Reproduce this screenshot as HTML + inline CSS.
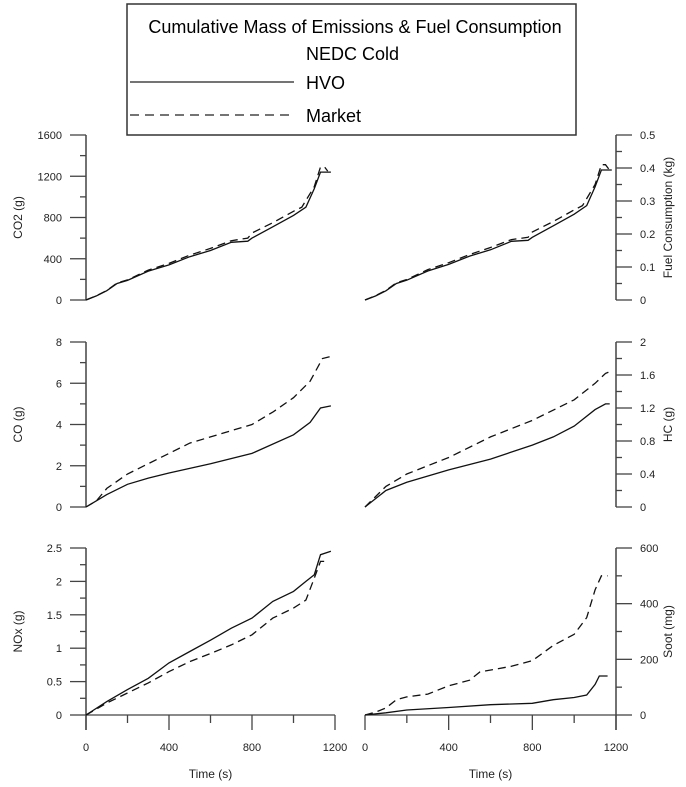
<!DOCTYPE html>
<html><head><meta charset="utf-8"><style>
body{margin:0;background:#fff;}
svg{display:block;font-family:"Liberation Sans",Arial,sans-serif;}
.leg{font-family:"Liberation Sans",sans-serif;}
</style></head><body>
<svg id="chart" width="686" height="787" viewBox="0 0 686 787">
<g>
<rect x="127" y="4" width="449" height="131" fill="#fff" stroke="#333" stroke-width="1.5"/>
<text class="leg" x="355" y="33" font-size="18" text-anchor="middle">Cumulative Mass of Emissions &amp; Fuel Consumption</text>
<text class="leg" x="306" y="60" font-size="18">NEDC Cold</text>
<line x1="130" y1="82" x2="294" y2="82" stroke="#222" stroke-width="1.2"/>
<text class="leg" x="306" y="89" font-size="18">HVO</text>
<line x1="130" y1="115" x2="294" y2="115" stroke="#222" stroke-width="1.2" stroke-dasharray="9,6"/>
<text class="leg" x="306" y="122" font-size="18">Market</text>
</g>
</svg>
<script>
const xTickVals=[0,400,800,1200];
const co2T=[0,50,100,150,200,300,400,500,600,700,780,800,900,1000,1060,1100,1130,1180];
const co2Hvo=[0,40,90,160,190,280,340,420,480,560,570,600,710,820,900,1080,1240,1240];
const co2MktT=[0,50,100,150,200,300,400,500,600,700,780,800,900,1000,1040,1100,1130,1150,1165];
const co2Mkt=[0,42,92,165,195,290,355,435,500,575,600,650,750,860,900,1100,1290,1290,1250];
const fcT=co2T.slice();
const fcHvo=[0,0.012,0.028,0.05,0.06,0.088,0.108,0.133,0.152,0.178,0.181,0.19,0.225,0.26,0.286,0.343,0.394,0.394];
const fcMktT=co2MktT.slice();
const fcMkt=[0,0.013,0.029,0.052,0.062,0.092,0.113,0.138,0.159,0.183,0.19,0.206,0.238,0.273,0.286,0.35,0.41,0.41,0.397];
const coT=[0,50,100,200,300,400,600,800,1000,1080,1130,1180];
const coHvo=[0,0.3,0.6,1.1,1.4,1.65,2.1,2.6,3.5,4.1,4.8,4.9];
const coMktT=[0,50,100,200,300,400,500,600,800,900,1000,1080,1140,1180];
const coMkt=[0,0.3,0.9,1.6,2.1,2.6,3.1,3.4,4.0,4.6,5.3,6.1,7.2,7.3];
const hcT=[0,100,200,400,600,800,900,1000,1100,1150,1170];
const hcHvo=[0,0.2,0.3,0.45,0.58,0.75,0.85,0.98,1.18,1.25,1.25];
const hcMktT=[0,100,200,400,600,800,1000,1100,1150,1170];
const hcMkt=[0,0.25,0.4,0.6,0.85,1.05,1.3,1.5,1.62,1.64];
const noxT=[0,100,200,300,400,500,600,700,800,900,1000,1060,1100,1130,1180];
const noxHvo=[0,0.2,0.38,0.55,0.78,0.95,1.12,1.3,1.45,1.7,1.85,2.0,2.1,2.4,2.45];
const noxMktT=[0,100,200,300,400,500,600,700,800,900,1000,1060,1100,1130,1150];
const noxMkt=[0,0.18,0.33,0.48,0.65,0.8,0.92,1.05,1.2,1.45,1.6,1.72,2.05,2.3,2.3];
const sootT=[0,100,200,400,600,800,900,1000,1060,1100,1120,1160];
const sootHvo=[0,8,18,27,37,42,55,63,72,110,140,140];
const sootMktT=[0,50,100,150,200,300,400,500,550,700,800,900,1000,1060,1100,1130,1160];
const sootMkt=[0,10,25,55,65,75,105,125,155,175,195,250,290,350,450,500,500];

const panels=[
 {n:'co2',side:'L',x0:86,x1:335,yT:135,yB:300,max:1600,maj:400,min:200,lab:'CO2 (g)',fmt:v=>v,t1:co2T,s1:co2Hvo,t2:co2MktT,s2:co2Mkt,xa:false},
 {n:'fuel',side:'R',x0:365,x1:616,yT:135,yB:300,max:0.5,maj:0.1,min:0.05,lab:'Fuel Consumption (kg)',fmt:v=>+v.toFixed(1),t1:fcT,s1:fcHvo,t2:fcMktT,s2:fcMkt,xa:false},
 {n:'co',side:'L',x0:86,x1:335,yT:342,yB:507,max:8,maj:2,min:1,lab:'CO (g)',fmt:v=>v,t1:coT,s1:coHvo,t2:coMktT,s2:coMkt,xa:false},
 {n:'hc',side:'R',x0:365,x1:616,yT:342,yB:507,max:2,maj:0.4,min:0.2,lab:'HC (g)',fmt:v=>+v.toFixed(1),t1:hcT,s1:hcHvo,t2:hcMktT,s2:hcMkt,xa:false},
 {n:'nox',side:'L',x0:86,x1:335,yT:548,yB:715,max:2.5,maj:0.5,min:0.25,lab:'NOx (g)',fmt:v=>+v.toFixed(1),t1:noxT,s1:noxHvo,t2:noxMktT,s2:noxMkt,xa:true},
 {n:'soot',side:'R',x0:365,x1:616,yT:548,yB:715,max:600,maj:200,min:100,lab:'Soot (mg)',fmt:v=>v,t1:sootT,s1:sootHvo,t2:sootMktT,s2:sootMkt,xa:true}
];
const svg=document.getElementById('chart');
const NS='http://www.w3.org/2000/svg';
function mk(tag,attrs,parent){const e=document.createElementNS(NS,tag);for(const k in attrs)e.setAttribute(k,attrs[k]);parent.appendChild(e);return e;}
panels.forEach(p=>{
 const g=mk('g',{},svg);
 
 
 const xs=t=>p.x0+(t/1200)*(p.x1-p.x0);
 const ys=v=>p.yB-(v/p.max)*(p.yB-p.yT);
 const ax=p.side==='L'?p.x0:p.x1, dir=p.side==='L'?-1:1;
 const yEnd=p.xa?730:p.yB;
 const axl=mk('line',{x1:ax,y1:p.yT,x2:ax,y2:yEnd,stroke:'#444','stroke-width':1.5},g);
 
 
 const nMin=Math.round(p.max/p.min);
 for(let i=0;i<=nMin;i++){
  const v=i*p.min, y=ys(v);
  const major=Math.abs(v/p.maj-Math.round(v/p.maj))<1e-6;
  mk('line',{x1:ax,y1:y,x2:ax+dir*(major?16:6),y2:y,stroke:'#444','stroke-width':1.3},g);
  if(major){
   const tx=mk('text',{x:ax+dir*(major?24:0),y:y+4,'font-size':11,fill:'#222','text-anchor':p.side==='L'?'end':'start'},g);
   tx.textContent=p.fmt(v);
   
   
  }
 }
 const lx=p.side==='L'?22:672, ly=(p.yT+p.yB)/2;
 const yl=mk('text',{x:lx,y:ly,'font-size':12,fill:'#222','text-anchor':'middle',transform:`rotate(-90 ${lx} ${ly})`},g);
 yl.textContent=p.lab;
 
 
 if(p.xa){
  const xl=mk('line',{x1:p.x0,y1:p.yB,x2:p.x1,y2:p.yB,stroke:'#444','stroke-width':1.3},g);
  
  
  for(let t=0;t<=1200;t+=200){mk('line',{x1:xs(t),y1:p.yB,x2:xs(t),y2:p.yB+(t%400===0?15:8),stroke:'#444','stroke-width':1.3},g);}
  xTickVals.forEach(t=>{
   const tx=mk('text',{x:xs(t),y:751,'font-size':11,fill:'#222','text-anchor':'middle'},g);
   tx.textContent=t;
   
   
  });
  const xt=mk('text',{x:(p.x0+p.x1)/2,y:778,'font-size':12,fill:'#222','text-anchor':'middle'},g);
  xt.textContent='Time (s)';
  
  
 }
 const pts=(T,S)=>T.map((t,i)=>xs(t).toFixed(1)+','+ys(S[i]).toFixed(1)).join(' ');
 const l1=mk('polyline',{points:pts(p.t1,p.s1),fill:'none',stroke:'#111','stroke-width':1.3},g);
 
 
 const l2=mk('polyline',{points:pts(p.t2,p.s2),fill:'none',stroke:'#111','stroke-width':1.3,'stroke-dasharray':'8,5'},g);
 
 
});
</script>
</body></html>
